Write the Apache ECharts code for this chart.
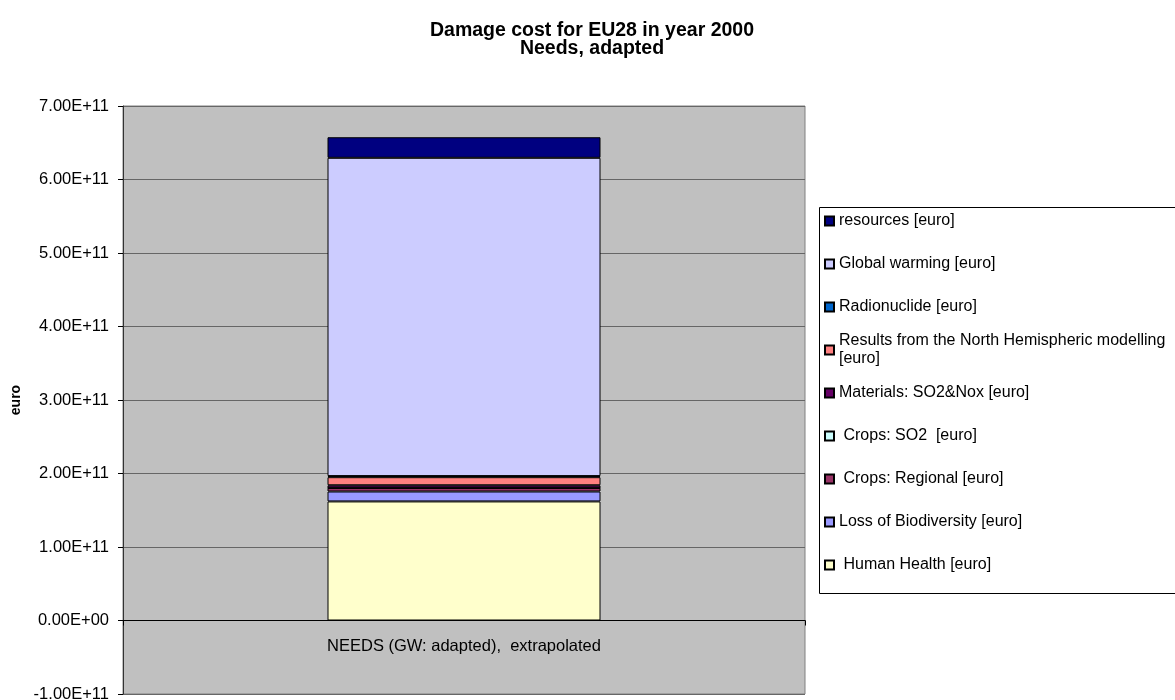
<!DOCTYPE html>
<html>
<head>
<meta charset="utf-8">
<script src="https://cdn.jsdelivr.net/npm/echarts@6/dist/echarts.min.js"></script>
<style>html,body{margin:0;padding:0;background:#fff;}#c{width:1175px;height:700px;}</style>
</head>
<body>
<div id="c"></div>
<script>
var titleText = 'Damage cost for EU28 in year 2000\nNeeds, adapted';
var yAxisName = 'euro';
var categories = ['NEEDS (GW: adapted),  extrapolated'];
var humanHealth = [1.62e11];
var lossBiodiversity = [1.35e10];
var cropsRegional = [4.8e9];
var cropsSO2 = [3e8];
var materials = [3.4e9];
var northHemispheric = [1.1e10];
var radionuclide = [1.5e9];
var globalWarming = [4.33e11];
var resources = [2.8e10];
var yMin = -1e11, yMax = 7e11, yStep = 1e11;

var seriesDefs = [
  {name: ' Human Health [euro]', data: humanHealth, color: '#FFFFCC'},
  {name: 'Loss of Biodiversity [euro]', data: lossBiodiversity, color: '#9999FF'},
  {name: ' Crops: Regional [euro]', data: cropsRegional, color: '#993366'},
  {name: ' Crops: SO2  [euro]', data: cropsSO2, color: '#CCFFFF'},
  {name: 'Materials: SO2&Nox [euro]', data: materials, color: '#660066'},
  {name: 'Results from the North Hemispheric modelling\n[euro]', data: northHemispheric, color: '#FF8080'},
  {name: 'Radionuclide [euro]', data: radionuclide, color: '#0066CC'},
  {name: 'Global warming [euro]', data: globalWarming, color: '#CCCCFF'},
  {name: 'resources [euro]', data: resources, color: '#000080'}
];

function sci(v) {
  if (v === 0) return '0.00E+00';
  var e = Math.floor(Math.log10(Math.abs(v)) + 1e-9);
  var m = v / Math.pow(10, e);
  var es = String(Math.abs(e));
  if (es.length < 2) es = '0' + es;
  return m.toFixed(2) + 'E' + (e < 0 ? '-' : '+') + es;
}

var FONT = 'Liberation Sans, Arial, sans-serif';
var legendText = {color: '#000', fontSize: 16, lineHeight: 18, fontFamily: FONT};
var legendCommon = {
  orient: 'vertical', left: 824, padding: 0, itemWidth: 9, itemHeight: 9, itemGap: 25,
  icon: 'rect', selectedMode: false, textStyle: legendText
};

var chart = echarts.init(document.getElementById('c'), null, {renderer: 'canvas'});
chart.setOption({
  animation: false,
  backgroundColor: '#fff',
  title: {
    text: titleText, left: 587, textAlign: 'center', top: 16,
    textStyle: {fontSize: 19.5, fontWeight: 'bold', color: '#000', lineHeight: 18.5, fontFamily: FONT}
  },
  grid: {left: 123, right: 370, top: 106, bottom: 6, containLabel: false, outerBoundsMode: 'none',
    show: true, backgroundColor: '#C0C0C0', borderColor: '#808080', borderWidth: 1},
  legend: [
    Object.assign({}, legendCommon, {top: 212, data: [seriesDefs[8].name, seriesDefs[7].name, seriesDefs[6].name]}),
    Object.assign({}, legendCommon, {top: 323, data: [seriesDefs[5].name],
      textStyle: Object.assign({}, legendText, {padding: [18, 0, 0, 0]})}),
    Object.assign({}, legendCommon, {top: 384, data: [seriesDefs[4].name, seriesDefs[3].name, seriesDefs[2].name, seriesDefs[1].name, seriesDefs[0].name]})
  ],
  graphic: [{
    type: 'rect', z: 0, silent: true,
    shape: {x: 819.5, y: 207.5, width: 400, height: 386},
    style: {fill: '#fff', stroke: '#000', lineWidth: 1}
  }],
  xAxis: {
    type: 'category', data: categories, boundaryGap: true,
    axisLine: {onZero: true, lineStyle: {color: '#000', width: 1}},
    axisTick: {show: true, length: 5, lineStyle: {color: '#000'}},
    axisLabel: {margin: -56, color: '#000', fontSize: 16.5, fontFamily: FONT},
    splitLine: {show: false}
  },
  yAxis: {
    type: 'value', min: yMin, max: yMax, interval: yStep,
    name: yAxisName, nameLocation: 'middle', nameGap: 86, nameRotate: 90,
    nameTextStyle: {fontSize: 14, fontWeight: 'bold', color: '#000', fontFamily: FONT},
    axisLine: {show: true, lineStyle: {color: '#333', width: 1}},
    axisTick: {show: true, length: 5, lineStyle: {color: '#000'}},
    axisLabel: {margin: 14, color: '#000', fontSize: 16.5, fontFamily: FONT, formatter: sci},
    splitLine: {show: true, lineStyle: {color: '#666', width: 1}}
  },
  series: seriesDefs.map(function (s) {
    return {
      type: 'bar', name: s.name, stack: 'total', data: s.data, barWidth: 273,
      itemStyle: {color: s.color, borderColor: '#000', borderWidth: 1}
    };
  })
});
</script>
</body>
</html>
